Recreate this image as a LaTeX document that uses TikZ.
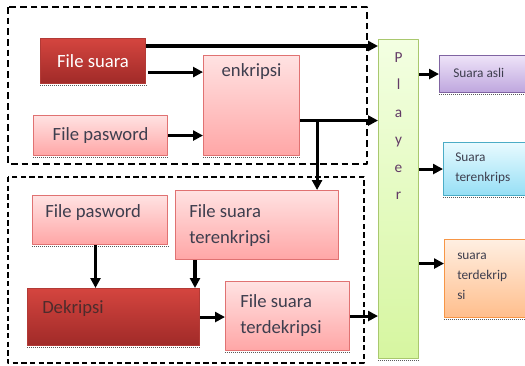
\documentclass[tikz,border=0pt]{standalone}
\usepackage{fontspec}
\setmainfont{Carlito}
\usetikzlibrary{arrows.meta,positioning}

\definecolor{mtBordo}{HTML}{B23A36}
\definecolor{mtAtas}{HTML}{D4453F}
\definecolor{mtBawah}{HTML}{A02A28}
\definecolor{mmBordo}{HTML}{E07272}
\definecolor{mmAtas}{HTML}{FFE2E2}
\definecolor{mmBawah}{HTML}{FFA6A6}
\definecolor{hjBordo}{HTML}{A9C86E}
\definecolor{hjAtas}{HTML}{F3FFE2}
\definecolor{hjBawah}{HTML}{D6F6A0}
\definecolor{unBordo}{HTML}{8064A2}
\definecolor{unAtas}{HTML}{EEE3F8}
\definecolor{unBawah}{HTML}{BEA6DE}
\definecolor{brBordo}{HTML}{4BACC6}
\definecolor{brAtas}{HTML}{E8FAFF}
\definecolor{brBawah}{HTML}{96DFF5}
\definecolor{orBordo}{HTML}{F79646}
\definecolor{orAtas}{HTML}{FFEFE2}
\definecolor{orBawah}{HTML}{FFBE8C}
\definecolor{teksAbu}{HTML}{3E3E4E}
\definecolor{teksDek}{HTML}{4E2C2C}
\definecolor{teksPlayer}{HTML}{623A66}

\tikzset{
  kotak/.style={anchor=north west,inner sep=0pt,line width=.8pt},
  ukuran/.style 2 args={minimum width=#1*.75pt,minimum height=#2*.75pt},
  merahtua/.style={kotak,draw=mtBordo,top color=mtAtas,bottom color=mtBawah},
  merahmuda/.style={kotak,draw=mmBordo,top color=mmAtas,bottom color=mmBawah},
  hijau/.style={kotak,draw=hjBordo,top color=hjAtas,bottom color=hjBawah},
  ungu/.style={kotak,draw=unBordo,top color=unAtas,bottom color=unBawah},
  biru/.style={kotak,draw=brBordo,top color=brAtas,bottom color=brBawah},
  oranye/.style={kotak,draw=orBordo,top color=orAtas,bottom color=orBawah},
  teks/.style={inner sep=0pt,font=\fontsize{14}{20}\selectfont,text=teksAbu,align=left},
  tekskecil/.style={inner sep=0pt,font=\fontsize{10}{15}\selectfont,text=teksAbu,align=left},
  panah/.style={line width=2.3pt,-{Triangle[length=7.5pt,width=7.5pt]}},
}

\begin{document}
\begin{tikzpicture}[x=.75pt,y=-.75pt,line join=round]
  \useasboundingbox (0,0) rectangle (525,365);
  \clip (0,0) rectangle (525,365);

  % Bingkai putus-putus: enkripsi di atas, dekripsi di bawah.
  \draw[line width=1.6pt,dash pattern=on 5pt off 3pt] (8,7) rectangle (367,164);
  \draw[line width=1.1pt,dash pattern=on 4pt off 2.5pt] (8,177) rectangle (364,363);

  % Bagian enkripsi.
  \node[merahtua,ukuran={105}{45},teks,text=white] (fsuara) at (40,38) {File suara};
  \node[merahmuda,ukuran={96}{100}] (enkripsi) at (203,55) {};
  \node[teks] (enkripsiT) at ([yshift=-12.75pt]enkripsi.north) {enkripsi};
  \node[merahmuda,ukuran={134}{40},teks] (pasA) at (33,115) {File pasword};

  % Bagian dekripsi.
  \node[merahmuda,ukuran={135}{49}] (pasB) at (32,195) {};
  \node[teks,anchor=west] (pasBT) at ([xshift=9.75pt,yshift=-13.5pt]pasB.north west) {File pasword};
  \node[merahmuda,ukuran={163}{69}] (terenk) at (175,190) {};
  \node[teks,anchor=north west] (terenkT) at ([xshift=10.5pt,yshift=-10.5pt]terenk.north west) {File suara\\terenkripsi};
  \node[merahtua,ukuran={172}{57}] (dek) at (27,288) {};
  \node[teks,text=teksDek,anchor=base west] (dekT) at ([xshift=11.25pt,yshift=-18.75pt]dek.north west) {Dekripsi};
  \node[merahmuda,ukuran={124}{69}] (terdek) at (225,281) {};
  \node[teks,anchor=north west] (terdekT) at ([xshift=11.25pt,yshift=-9.75pt]terdek.north west) {File suara\\terdekripsi};

  % Player dan hasilnya.
  \node[hijau,ukuran={40}{319}] (player) at (378,39) {};
  \node[inner sep=0pt,anchor=north,align=center,text=teksPlayer,
        font=\fontsize{11.5}{20.6}\selectfont] (playerT)
    at ([yshift=-10pt]player.north) {P\\l\\a\\y\\e\\r};
  \node[ungu,ukuran={100}{37}] (sasli) at (439,55) {};
  \node[tekskecil,anchor=base west] (sasliT) at ([xshift=10.5pt,yshift=-16.5pt]sasli.north west) {Suara asli};
  \node[biru,ukuran={100}{53}] (senk) at (443,142) {};
  \node[tekskecil,anchor=north west] (senkT) at ([xshift=9pt,yshift=-7.8pt]senk.north west) {Suara\\terenkrips};
  \node[oranye,ukuran={100}{78}] (sdek) at (444,239) {};
  \node[tekskecil,anchor=north west] (sdekT) at ([xshift=9.75pt,yshift=-10.5pt]sdek.north west) {suara\\terdekrip\\si};

  % Bayangan titik-titik di bawah kotak.
  \foreach \k in {fsuara,enkripsi,pasA,pasB,dek,terdek,player,sasli,senk,sdek}{
    \draw[black!65,line width=.6pt,dash pattern=on .6pt off .9pt]
      ([yshift=-1.2pt]\k.south west) -- ([yshift=-1.2pt]\k.south east);
  }

  % Panah.
  \coordinate (a1) at ([yshift=-6pt]fsuara.north east);
  \draw[panah] (a1) -- (a1 -| player.west);
  \coordinate (a2) at ([xshift=1.5pt,yshift=9pt]fsuara.south east);
  \draw[panah] (a2) -- (a2 -| enkripsi.west);
  \draw[panah] (pasA.east) -- (pasA.east -| enkripsi.west);
  \coordinate (a4) at ([yshift=-11.25pt]enkripsi.east);
  \draw[panah] (a4) -- (a4 -| player.west);
  \coordinate (cabang) at ([xshift=12.75pt]a4);
  \draw[panah] (cabang) -- (cabang |- terenk.north);
  \coordinate (a5) at ([xshift=-3.4pt]pasB.south);
  \draw[panah] (a5) -- (a5 |- dek.north);
  \coordinate (a6) at ([xshift=15pt]terenk.south west);
  \draw[panah] (a6) -- (a6 |- dek.north);
  \draw[panah] (dek.east) -- (dek.east -| terdek.west);
  \draw[panah] (terdek.east) -- (terdek.east -| player.west);
  \draw[panah] (sasli.west -| player.east) -- (sasli.west);
  \draw[panah] (senk.west -| player.east) -- (senk.west);
  \coordinate (b3) at ([yshift=11.25pt]sdek.west);
  \draw[panah] (b3 -| player.east) -- (b3);
\end{tikzpicture}
\end{document}
